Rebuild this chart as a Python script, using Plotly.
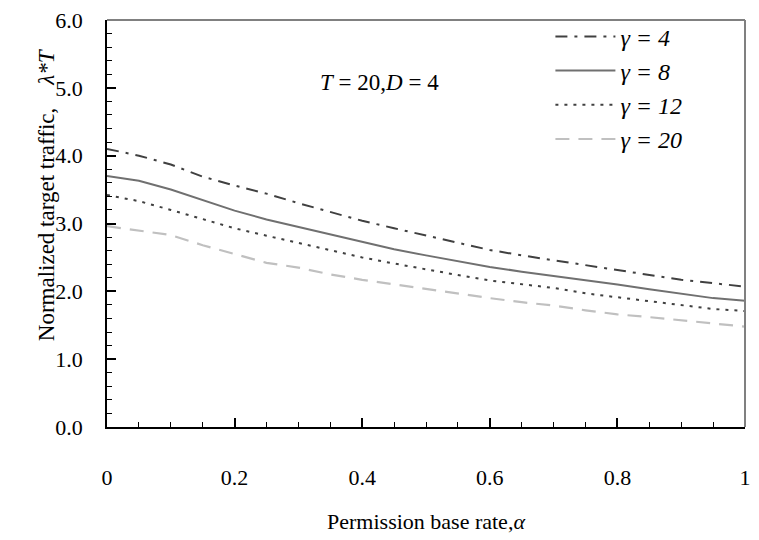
import plotly.graph_objects as go

alpha = [0, 0.05, 0.1, 0.15, 0.2, 0.25, 0.3, 0.35, 0.4, 0.45, 0.5,
         0.55, 0.6, 0.65, 0.7, 0.75, 0.8, 0.85, 0.9, 0.95, 1.0]
g4 = [4.10, 4.00, 3.87, 3.69, 3.56, 3.44, 3.30, 3.17, 3.04, 2.93, 2.82,
      2.71, 2.61, 2.53, 2.46, 2.39, 2.31, 2.24, 2.17, 2.12, 2.07]
g8 = [3.70, 3.63, 3.50, 3.34, 3.19, 3.06, 2.95, 2.83, 2.72, 2.62, 2.53,
      2.44, 2.36, 2.29, 2.23, 2.17, 2.10, 2.03, 1.97, 1.90, 1.86]
g12 = [3.42, 3.33, 3.20, 3.06, 2.93, 2.82, 2.71, 2.60, 2.50, 2.41, 2.32,
       2.24, 2.16, 2.10, 2.05, 1.97, 1.91, 1.85, 1.80, 1.74, 1.71]
g20 = [2.96, 2.90, 2.83, 2.68, 2.55, 2.42, 2.35, 2.25, 2.17, 2.10, 2.03,
       1.97, 1.90, 1.84, 1.79, 1.72, 1.66, 1.62, 1.57, 1.52, 1.48]

series = [
    ("<i>γ = 4</i>", g4, "#404040", "12px,7px,3px,7px", 2.0),
    ("<i>γ = 8</i>", g8, "#707070", "solid", 2.0),
    ("<i>γ = 12</i>", g12, "#404040", "3px,6px", 2.0),
    ("<i>γ = 20</i>", g20, "#c0c0c0", "14px,9px", 2.2),
]

FONT = "Liberation Serif"

fig = go.Figure()
for name, ys, color, dash, w in series:
    fig.add_trace(go.Scatter(x=alpha, y=ys, name=name, mode="lines",
                             line=dict(color=color, dash=dash, width=w)))

fig.update_layout(
    width=759, height=540,
    margin=dict(l=107, r=8, t=11, b=113),
    paper_bgcolor="white", plot_bgcolor="white",
    font=dict(family=FONT, size=22, color="black"),
    showlegend=True,
    legend=dict(x=0.695, y=1.014, xanchor="left", yanchor="top",
                font=dict(family=FONT, size=24, color="black"),
                bgcolor="rgba(0,0,0,0)", tracegroupgap=0, itemwidth=60),
)

fig.update_xaxes(
    range=[0, 1], tickvals=[0, 0.2, 0.4, 0.6, 0.8, 1.0],
    ticktext=["0", "0.2", "0.4", "0.6", "0.8", "1"],
    showgrid=False, zeroline=False,
    showline=True, linecolor="black", linewidth=1.5,
    ticks="inside", ticklen=9, tickcolor="black", tickwidth=1.5,
    minor=dict(dtick=0.05, ticks="inside", ticklen=5, tickcolor="black", tickwidth=1),
    ticklabelstandoff=30,
    tickfont=dict(family=FONT, size=22),
    title=dict(text="Permission base rate,<i>α</i>", standoff=24,
               font=dict(family=FONT, size=22)),
)
fig.update_yaxes(
    range=[0, 6], dtick=1, tickformat=".1f",
    showgrid=False, zeroline=False,
    showline=True, linecolor="black", linewidth=1.5,
    ticks="inside", ticklen=9, tickcolor="black", tickwidth=1.5,
    minor=dict(dtick=0.2, ticks="inside", ticklen=5, tickcolor="black", tickwidth=1),
    ticklabelstandoff=18,
    tickfont=dict(family=FONT, size=22),
)

# gray top and right border
fig.add_shape(type="line", xref="paper", yref="paper", x0=0, x1=1, y0=1, y1=1,
              line=dict(color="#808080", width=2))
fig.add_shape(type="line", xref="paper", yref="paper", x0=1, x1=1, y0=0, y1=1,
              line=dict(color="#808080", width=2))

fig.add_annotation(text="Normalized target traffic,&nbsp;&nbsp;&nbsp;&nbsp;<i>λ*T</i>",
                   xref="paper", yref="paper", x=-0.118, y=0.57,
                   textangle=-90, showarrow=False,
                   font=dict(family=FONT, size=23))
fig.add_annotation(text="<i>T</i> = 20,<i>D</i> = 4",
                   xref="paper", yref="paper", x=0.33, y=0.882,
                   showarrow=False, font=dict(family=FONT, size=23))

fig.write_html("out.html")
